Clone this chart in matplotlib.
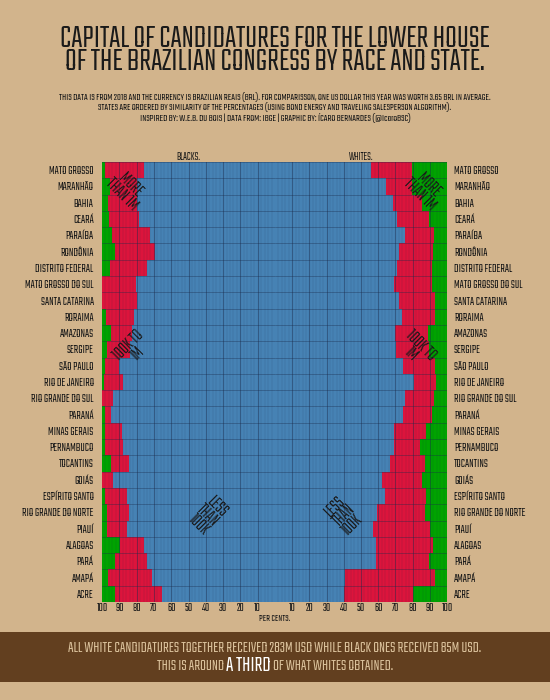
import matplotlib
matplotlib.use('Agg')
import matplotlib.pyplot as plt
import numpy as np

plt.rcParams['font.family'] = ['Teko', 'DejaVu Sans']
plt.rcParams['font.weight'] = 'semibold'

# states, top to bottom
states = ['MATO GROSSO', 'MARANHÃO', 'BAHIA', 'CEARÁ', 'PARAÍBA', 'RONDÔNIA',
          'DISTRITO FEDERAL', 'MATO GROSSO DO SUL', 'SANTA CATARINA', 'RORAIMA',
          'AMAZONAS', 'SERGIPE', 'SÃO PAULO', 'RIO DE JANEIRO', 'RIO GRANDE DO SUL',
          'PARANÁ', 'MINAS GERAIS', 'PERNAMBUCO', 'TOCANTINS', 'GOIÁS',
          'ESPÍRITO SANTO', 'RIO GRANDE DO NORTE', 'PIAUÍ', 'ALAGOAS', 'PARÁ',
          'AMAPÁ', 'ACRE']

# percentages of candidatures per capital bracket
black_less = [75.7, 80.0, 79.6, 78.8, 72.0, 69.2, 73.8, 80.3, 80.0, 81.5,
              82.7, 84.0, 90.0, 88.0, 93.8, 94.6, 88.6, 87.7, 84.6, 93.8,
              85.5, 84.2, 85.5, 75.7, 74.0, 71.1, 65.5]
black_mid = [22.8, 15.5, 17.0, 17.1, 22.0, 23.3, 21.6, 19.7, 20.0, 16.0,
             12.1, 13.0, 8.3, 11.0, 6.2, 3.5, 9.7, 10.4, 10.2, 6.2,
             13.0, 13.1, 11.6, 13.9, 18.5, 25.4, 27.0]
black_more = [1.5, 4.5, 3.4, 4.1, 6.0, 7.5, 4.6, 0.0, 0.0, 2.5,
              5.2, 3.0, 1.7, 1.0, 0.0, 1.9, 1.7, 1.9, 5.2, 0.0,
              1.5, 2.7, 2.9, 10.4, 7.5, 3.5, 7.5]

white_less = [55.8, 64.3, 68.4, 70.9, 75.6, 72.3, 70.7, 68.9, 72.3, 74.0,
              69.9, 70.5, 74.4, 81.0, 75.8, 74.6, 68.9, 68.9, 66.8, 62.0,
              64.1, 59.3, 57.1, 58.7, 58.7, 40.9, 40.1]
white_mid = [24.0, 15.5, 16.9, 18.6, 16.6, 19.6, 20.6, 22.6, 20.7, 19.2,
             18.9, 19.2, 18.6, 12.6, 16.8, 16.7, 18.7, 15.2, 20.2, 23.3,
             23.5, 28.1, 33.0, 33.0, 30.8, 52.1, 40.3]
white_more = [20.2, 20.2, 14.7, 10.5, 7.8, 8.1, 8.7, 8.5, 7.0, 6.8,
              11.2, 10.3, 7.0, 6.4, 7.4, 8.7, 12.4, 15.9, 13.0, 14.7,
              12.4, 12.6, 9.9, 8.3, 10.5, 7.0, 19.6]

bg = '#d2b48c'
blue = '#4682b4'
red = '#dc143c'
green = '#00a300'
ink = '#1a1a1a'
band_text = '#d9c09a'

fig = plt.figure(figsize=(5.5, 7), dpi=100, facecolor=bg)

ax_b = fig.add_axes([102 / 550, 1 - 602 / 700, 173 / 550, 440 / 700])
ax_w = fig.add_axes([275 / 550, 1 - 602 / 700, 172 / 550, 440 / 700])

y = np.arange(len(states))


def draw_panel(ax, less, mid, more):
    less = np.array(less)
    mid = np.array(mid)
    more = np.array(more)
    ax.barh(y, less, height=1.0, color=blue, zorder=1)
    ax.barh(y, mid, left=less, height=1.0, color=red, zorder=1)
    ax.barh(y, more, left=less + mid, height=1.0, color=green, zorder=1)
    # thin grid lines, darker every ten
    for v in range(2, 100, 2):
        lw = 0.8 if v % 10 == 0 else 0.35
        al = 0.45 if v % 10 == 0 else 0.25
        ax.axvline(v, color='#1a2a4a', lw=lw, alpha=al, zorder=2)
    for k in range(len(states) + 1):
        ax.axhline(k - 0.5, color='#1a2a4a', lw=0.5, alpha=0.5, zorder=2)
    ax.set_xlim(0, 100)
    ax.set_ylim(len(states) - 0.5, -0.5)
    ax.set_facecolor(bg)
    for s in ax.spines.values():
        s.set_visible(False)
    ax.set_xticks(range(10, 101, 10))
    ax.tick_params(axis='x', length=0, labelsize=8.5, colors=ink, pad=1)
    ax.tick_params(axis='y', length=0)


draw_panel(ax_b, black_less, black_mid, black_more)
draw_panel(ax_w, white_less, white_mid, white_more)
ax_b.invert_xaxis()

ax_b.set_yticks(y)
ax_b.set_yticklabels(states, fontsize=8.7, color=ink)
ax_b.tick_params(axis='y', pad=6)
ax_w.yaxis.tick_right()
ax_w.set_yticks(y)
ax_w.set_yticklabels(states, fontsize=8.7, color=ink)
ax_w.tick_params(axis='y', pad=5)

ax_b.set_title('BLACKS.', fontsize=8, color=ink, pad=1)
ax_w.set_title('WHITES.', fontsize=8, color=ink, pad=1)

fig.text(0.5, 1 - 618 / 700, 'PER CENTS.', ha='center', va='center', fontsize=7.5, color=ink)

# annotations
ann = dict(fontsize=12.5, color=ink, ha='center', va='center', linespacing=0.8,
           fontweight='bold')
ax_b.text(86, 1.2, 'MORE\nTHAN 1M', rotation=-45, **ann)
ax_w.text(86.5, 1.2, 'MORE\nTHAN 1M', rotation=-45, **ann)
ax_b.text(82, 11.0, '100K TO\n1M', rotation=45, **ann)
ax_w.text(82, 11.0, '100K TO\n1M', rotation=-45, **ann)
ax_b.text(39, 21.2, 'LESS\nTHAN\n100K', rotation=-45, **ann)
ax_w.text(40, 21.2, 'LESS\nTHAN\n100K', rotation=45, **ann)

# title block
fig.text(0.5, 1 - 50 / 700,
         'CAPITAL OF CANDIDATURES FOR THE LOWER HOUSE\nOF THE BRAZILIAN CONGRESS BY RACE AND STATE.',
         ha='center', va='center', fontsize=23.5, color=ink, fontweight='semibold',
         linespacing=0.82)
sub = ('THIS DATA IS FROM 2018 AND THE CURRENCY IS BRAZILIAN REAIS (BRL). FOR COMPARISSON, '
       'ONE US DOLLAR THIS YEAR WAS WORTH 3.65 BRL IN AVERAGE.\n'
       'STATES ARE ORDERED BY SIMILARITY OF THE PERCENTAGES (USING BOND ENERGY AND '
       'TRAVELING SALESPERSON ALGORITHM).\n'
       'INSPIRED BY: W.E.B. DU BOIS | DATA FROM: IBGE | GRAPHIC BY: ÍCARO BERNARDES (@IcaroBSC)')
fig.text(0.5, 1 - 107.5 / 700, sub, ha='center', va='center', fontsize=7.8,
         color=ink, linespacing=1.05)

# bottom band
band = fig.add_axes([0, 1 - 682 / 700, 1, 50 / 700])
band.set_facecolor('#623f1f')
band.set_xticks([])
band.set_yticks([])
for s in band.spines.values():
    s.set_visible(False)
band.text(0.5, 0.68, 'ALL WHITE CANDIDATURES TOGETHER RECEIVED 283M USD WHILE BLACK ONES RECEIVED 85M USD.',
          ha='center', va='center', fontsize=11.6, color=band_text, fontweight='normal',
          transform=band.transAxes)
t1 = band.text(0, 0.34, 'THIS IS AROUND ', ha='left', va='center', fontsize=11.6,
               color=band_text, fontweight='normal', transform=band.transAxes)
t2 = band.text(0, 0.34, 'A THIRD', ha='left', va='center', fontsize=15.5,
               color='white', fontweight='normal', transform=band.transAxes)
t3 = band.text(0, 0.34, ' OF WHAT WHITES OBTAINED.', ha='left', va='center', fontsize=11.6,
               color=band_text, fontweight='normal', transform=band.transAxes)

# centre the mixed-size second line
fig.canvas.draw()
r = fig.canvas.get_renderer()
w1 = t1.get_window_extent(r).width
w2 = t2.get_window_extent(r).width
w3 = t3.get_window_extent(r).width
W = fig.bbox.width
start = (W - (w1 + w2 + w3)) / 2
t1.set_x(start / W)
t2.set_x((start + w1) / W)
t3.set_x((start + w1 + w2) / W)

fig.savefig('out.png', dpi=100, facecolor=bg)
